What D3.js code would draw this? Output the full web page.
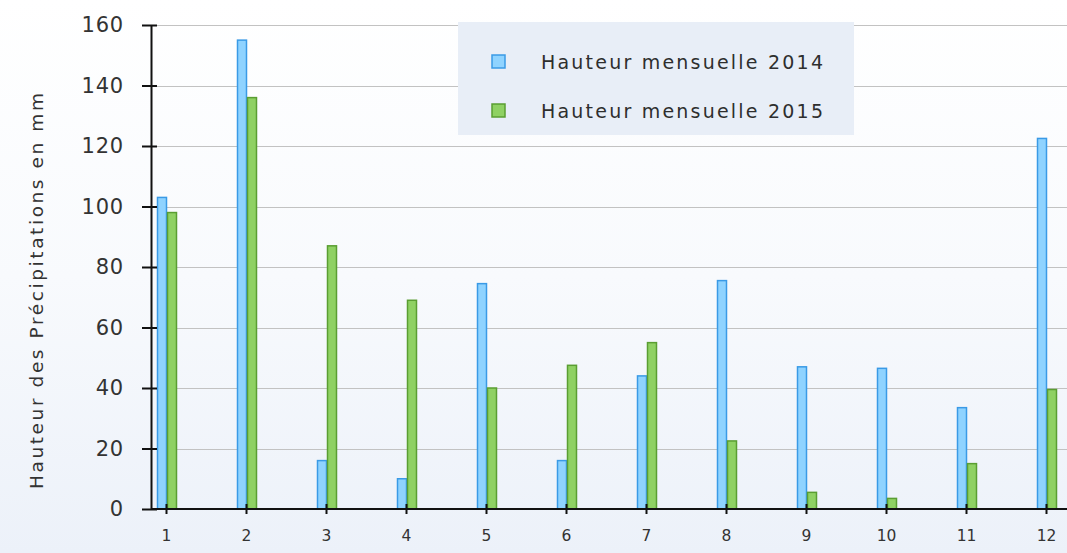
<!DOCTYPE html>
<html>
<head>
<meta charset="utf-8">
<script src="https://cdn.jsdelivr.net/npm/d3@7"></script>
<style>
  body { margin: 0; background: #fff; }
  svg { display: block; }
</style>
</head>
<body>
<div id="chart"></div>
<script>
// months and monthly rainfall (mm)
const months = [1, 2, 3, 4, 5, 6, 7, 8, 9, 10, 11, 12];
const rain2014 = [103, 155, 16, 10, 74.5, 16, 44, 75.5, 47, 46.5, 33.5, 122.5];
const rain2015 = [98, 136, 87, 69, 40, 47.5, 55, 22.5, 5.5, 3.5, 15, 39.5];
const yTicks = [0, 20, 40, 60, 80, 100, 120, 140, 160];
const seriesNames = ["Hauteur mensuelle 2014", "Hauteur mensuelle 2015"];

const width = 1067, height = 553;
const plotLeft = 151, plotTop = 25, plotBottom = 509;
const font = "DejaVu Sans, Verdana, sans-serif";

const svg = d3.select("#chart").append("svg")
    .attr("width", width)
    .attr("height", height);

// ── Background gradient ─────────────────────────────
const defs = svg.append("defs");
const bg = defs.append("linearGradient")
    .attr("id", "bg").attr("x1", 0).attr("y1", 0).attr("x2", 0).attr("y2", 1);
bg.append("stop").attr("offset", "0%").attr("stop-color", "#ffffff");
bg.append("stop").attr("offset", "50%").attr("stop-color", "#f8fafd");
bg.append("stop").attr("offset", "100%").attr("stop-color", "#ecf1f9");
svg.append("rect").attr("width", width).attr("height", height).attr("fill", "url(#bg)");

const x = d3.scaleLinear().domain([1, 12]).range([166, 1046]);
const y = d3.scaleLinear().domain([0, 160]).range([plotBottom, plotTop]);

// ── Gridlines ──────────────────────────────────────
svg.append("g")
    .selectAll("line")
    .data(yTicks.filter(t => t > 0))
    .join("line")
    .attr("x1", plotLeft).attr("x2", width)
    .attr("y1", d => Math.round(y(d)) + 0.5).attr("y2", d => Math.round(y(d)) + 0.5)
    .attr("stroke", "#c2c2c2")
    .attr("stroke-width", 1.2);

// ── Bars ───────────────────────────────────────────
const barW = 9;
const bars = svg.append("g");
bars.selectAll("rect.b14")
    .data(months)
    .join("rect")
    .attr("class", "b14")
    .attr("x", d => x(d) - 8.5)
    .attr("y", (d, i) => y(rain2014[i]))
    .attr("width", barW)
    .attr("height", (d, i) => plotBottom - y(rain2014[i]))
    .attr("fill", "#8fd3ff")
    .attr("stroke", "#3a9ae6")
    .attr("stroke-width", 1.5);

bars.selectAll("rect.b15")
    .data(months)
    .join("rect")
    .attr("class", "b15")
    .attr("x", d => x(d) + 1.5)
    .attr("y", (d, i) => y(rain2015[i]))
    .attr("width", barW)
    .attr("height", (d, i) => plotBottom - y(rain2015[i]))
    .attr("fill", "#8fd163")
    .attr("stroke", "#5a9e32")
    .attr("stroke-width", 1.5);

// ── Axes ───────────────────────────────────────────
const yAxis = svg.append("g")
    .attr("transform", `translate(${plotLeft},0)`)
    .call(d3.axisLeft(y).tickValues(yTicks).tickSize(0).tickPadding(27));
yAxis.select(".domain").attr("stroke", "#111").attr("stroke-width", 2);
yAxis.selectAll("text")
    .attr("font-family", font)
    .attr("font-size", 21)
    .attr("letter-spacing", 0.8)
    .attr("fill", "#333");
yAxis.selectAll(".tick").append("line")
    .attr("x1", -9).attr("x2", 6)
    .attr("stroke", "#111").attr("stroke-width", 2);

const xAxis = svg.append("g")
    .attr("transform", `translate(0,${plotBottom})`)
    .call(d3.axisBottom(x).tickValues(months).tickFormat(d3.format("d")).tickSize(0).tickPadding(21));
xAxis.select(".domain").remove();
xAxis.append("line")
    .attr("x1", plotLeft).attr("x2", width)
    .attr("stroke", "#111").attr("stroke-width", 2);
xAxis.selectAll(".tick").append("line")
    .attr("y1", -5).attr("y2", 5)
    .attr("stroke", "#111").attr("stroke-width", 2);
xAxis.selectAll("text")
    .attr("font-family", font)
    .attr("font-size", 15.5)
    .attr("fill", "#333");

// axis title
svg.append("text")
    .attr("transform", `translate(43,291) rotate(-90)`)
    .attr("text-anchor", "middle")
    .attr("font-family", font)
    .attr("font-size", 18.5)
    .attr("textLength", 396)
    .attr("lengthAdjust", "spacing")
    .attr("fill", "#333")
    .text("Hauteur des Précipitations en mm");

// ── Legend ─────────────────────────────────────────
const legend = svg.append("g");
legend.append("rect")
    .attr("x", 458).attr("y", 22)
    .attr("width", 396).attr("height", 113)
    .attr("fill", "#e8eef7");
const legendColors = [["#8fd3ff", "#3a9ae6"], ["#8fd163", "#5a9e32"]];
seriesNames.forEach((name, i) => {
    const ly = 62 + i * 49;
    legend.append("rect")
        .attr("x", 492).attr("y", ly - 7)
        .attr("width", 13).attr("height", 13)
        .attr("fill", legendColors[i][0])
        .attr("stroke", legendColors[i][1])
        .attr("stroke-width", 1.5);
    legend.append("text")
        .attr("x", 541).attr("y", ly + 7)
        .attr("font-family", font)
        .attr("font-size", 19)
        .attr("textLength", 282)
        .attr("lengthAdjust", "spacing")
        .attr("fill", "#2e2e2e")
        .text(name);
});
</script>
</body>
</html>
